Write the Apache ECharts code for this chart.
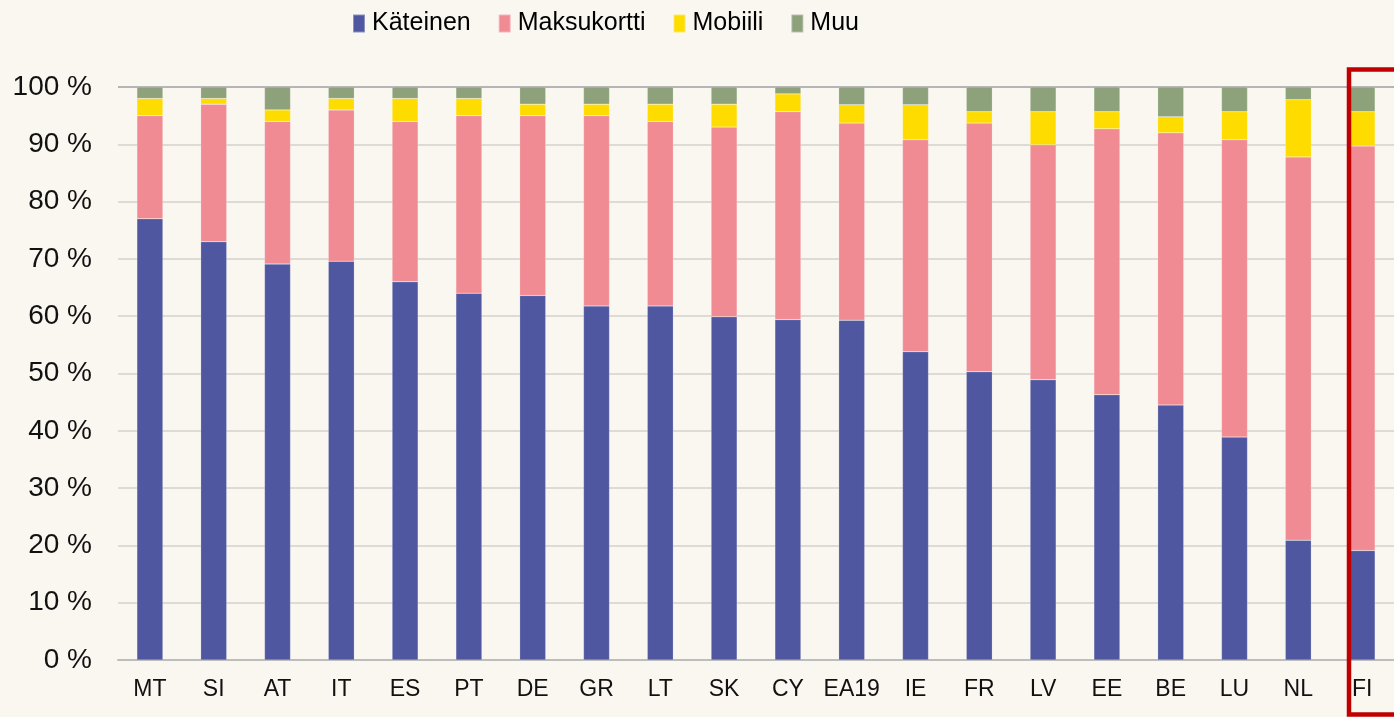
<!DOCTYPE html>
<html>
<head>
<meta charset="utf-8">
<script src="https://cdn.jsdelivr.net/npm/echarts@6/dist/echarts.min.js"></script>
<style>
html,body{margin:0;padding:0;background:#FAF6F0;}
#chart{width:1394px;height:717px;}
</style>
</head>
<body>
<div id="chart"></div>
<script>
const categories = ['MT','SI','AT','IT','ES','PT','DE','GR','LT','SK','CY','EA19','IE','FR','LV','EE','BE','LU','NL','FI'];
const kateinen   = [77, 73, 69.1, 69.6, 66, 64, 63.6, 61.8, 61.8, 59.9, 59.4, 59.3, 53.8, 50.3, 48.9, 46.3, 44.5, 38.9, 20.9, 19.1];
const maksukortti= [18, 24, 24.9, 26.4, 28, 31, 31.4, 33.2, 32.2, 33.1, 36.3, 34.4, 37.0, 43.4, 41.0, 46.4, 47.5, 51.9, 66.9, 70.6];
const mobiili    = [3, 1, 2, 2, 4, 3, 2, 2, 3, 4, 3.1, 3.2, 6.1, 2, 5.8, 3, 2.8, 4.9, 10, 6];
const muu        = [2, 2, 4, 2, 2, 2, 3, 3, 3, 3, 1.2, 3.1, 3.1, 4.3, 4.3, 4.3, 5.2, 4.3, 2.2, 4.3];
const yTicks = [0,10,20,30,40,50,60,70,80,90,100];

const seriesNames = ['Käteinen','Maksukortti','Mobiili','Muu'];
const colors = ['#4F57A0','#F18B93','#FFDC00','#8DA17A'];
const seriesData = [kateinen, maksukortti, mobiili, muu];

const chart = echarts.init(document.getElementById('chart'));
const font = "'Liberation Sans', Arial, sans-serif";
chart.setOption({
  backgroundColor: '#FAF6F0',
  animation: false,
  legend: {
    data: seriesNames,
    left: 352,
    top: 11,
    padding: 0,
    itemWidth: 12,
    itemHeight: 18,
    itemGap: 27,
    icon: 'rect',
    textStyle: { fontFamily: font, fontSize: 25, color: '#000', padding: [0, 0, 0, 2] }
  },
  grid: { left: 118, right: -12, top: 87, bottom: 57, containLabel: false },
  xAxis: {
    type: 'category',
    data: categories,
    axisTick: { show: false },
    axisLine: { lineStyle: { color: '#BDBDBD', width: 2 } },
    axisLabel: { interval: 0, fontFamily: font, fontSize: 23, color: '#111', margin: 18 }
  },
  yAxis: {
    type: 'value',
    min: yTicks[0],
    max: yTicks[yTicks.length-1],
    interval: 10,
    axisLine: { show: false },
    axisTick: { show: false },
    axisLabel: { fontFamily: font, fontSize: 28, color: '#111', margin: 26, formatter: '{value} %' },
    splitLine: { lineStyle: { color: ['#DEDBD6','#DEDBD6','#DEDBD6','#DEDBD6','#DEDBD6','#DEDBD6','#DEDBD6','#DEDBD6','#DEDBD6','#DEDBD6','#B5B5B5'], width: 2 } }
  },
  series: seriesData.map((d, i) => ({
    name: seriesNames[i],
    type: 'bar',
    stack: 'total',
    barWidth: 26,
    data: d,
    itemStyle: { color: colors[i], borderColor: 'rgba(255,255,255,0.35)', borderWidth: 0.5 }
  })),
  graphic: [{
    type: 'rect',
    shape: { x: 1349, y: 69.5, width: 80, height: 645 },
    style: { fill: 'none', stroke: '#C00000', lineWidth: 4.5 },
    z: 100
  }]
});
</script>
</body>
</html>
